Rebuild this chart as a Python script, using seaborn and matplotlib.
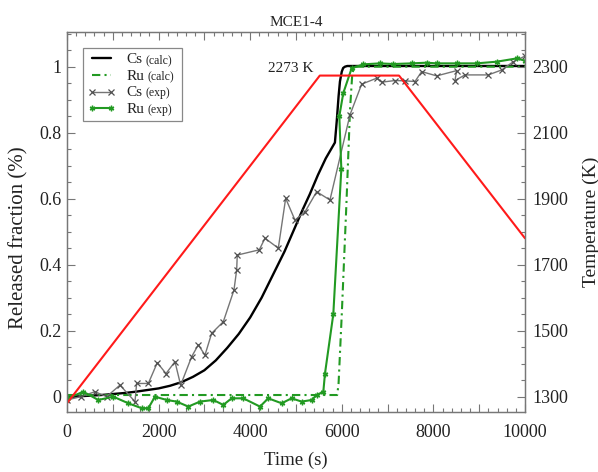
import matplotlib
matplotlib.use("Agg")
import matplotlib.pyplot as plt
import numpy as np
import pandas as pd
import seaborn as sns
from matplotlib.ticker import MultipleLocator, FixedLocator, FuncFormatter
from matplotlib.font_manager import FontProperties

# Furnace temperature programme (K)
temp_time = [0, 5520, 7250, 10000]
temp_K = [1280, 2273, 2273, 1780]

# Calculated release fractions
cs_calc_time = [0, 250, 500, 750, 1000, 1250, 1500, 1750, 2000, 2250, 2500, 2750,
                3000, 3250, 3500, 3750, 4000, 4250, 4500, 4750, 5000, 5150, 5300,
                5480, 5650, 5850, 5890, 5930, 5960, 6000, 6030, 6070, 6120, 10000]
cs_calc_frac = [0.0, 0.001, 0.003, 0.005, 0.008, 0.011, 0.015, 0.02, 0.025, 0.033,
                0.044, 0.06, 0.08, 0.11, 0.148, 0.19, 0.24, 0.30, 0.37, 0.44, 0.52,
                0.568, 0.613, 0.672, 0.722, 0.77, 0.835, 0.91, 0.955, 0.985, 0.996,
                1.0, 1.002, 1.002]

ru_calc_time = [0, 5900, 5930, 6000, 6100, 6180, 6230, 6280, 10000]
ru_calc_frac = [0.005, 0.005, 0.04, 0.25, 0.58, 0.87, 0.98, 1.0, 1.0]

# Measured release fractions
cs_exp_time = [0, 300, 611, 866, 1157, 1485, 1521, 1776, 1972, 2162, 2358, 2482,
               2722, 2867, 3013, 3159, 3413, 3646, 3705, 3718, 4199, 4323, 4614,
               4775, 4978, 5197, 5451, 5742, 6179, 6434, 6761, 6871, 7162, 7380,
               7598, 7744, 8072, 8508, 8472, 8690, 9199, 9491, 9745, 10000]
cs_exp_frac = [-0.01, 0.0, 0.015, 0.0, 0.035, -0.015, 0.04, 0.04, 0.103, 0.07,
               0.106, 0.035, 0.121, 0.157, 0.126, 0.192, 0.227, 0.323, 0.384,
               0.429, 0.445, 0.48, 0.45, 0.601, 0.535, 0.56, 0.621, 0.596, 0.854,
               0.947, 0.965, 0.953, 0.958, 0.957, 0.955, 0.985, 0.972, 0.988,
               0.958, 0.975, 0.975, 0.99, 1.015, 1.032]

ru_exp_time = [29, 356, 684, 1011, 1339, 1630, 1776, 1921, 2177, 2395, 2649, 2904,
               3195, 3413, 3595, 3849, 4214, 4395, 4686, 4906, 5124, 5343, 5451,
               5597, 5633, 5815, 5990, 5946, 6033, 6215, 6470, 6834, 7124, 7526,
               7853, 8072, 8508, 8945, 9381, 9818, 10000]
ru_exp_frac = [-0.004, 0.015, -0.01, 0.0, -0.02, -0.035, -0.035, 0.0, -0.01,
               -0.015, -0.03, -0.015, -0.01, -0.025, -0.005, -0.005, -0.03, -0.005,
               -0.02, -0.005, -0.015, -0.01, 0.005, 0.015, 0.07, 0.25, 0.69, 0.85,
               0.92, 0.995, 1.007, 1.01, 1.008, 1.01, 1.012, 1.01, 1.01, 1.01,
               1.015, 1.025, 1.018]

legend_names = ["Cs", "Ru", "Cs", "Ru"]
legend_tags = ["(calc)", "(calc)", "(exp)", "(exp)"]

sns.set_theme(style="ticks")
plt.rcParams["font.family"] = ["Liberation Serif", "DejaVu Serif"]

GREEN = "#229a22"
FRAME = "#777777"

fig = plt.figure(figsize=(5.98, 4.72), dpi=100)
ax = fig.add_axes([0.112, 0.1278, 0.7659, 0.8034])
ax2 = ax.twinx()

sns.lineplot(x=cs_calc_time, y=cs_calc_frac, ax=ax, sort=False, estimator=None,
             color="black", linewidth=1.7, label="Cs (calc)")
sns.lineplot(x=ru_calc_time, y=ru_calc_frac, ax=ax, sort=False, estimator=None,
             color=GREEN, linewidth=1.5, dashes=(4, 2, 1, 2), label="Ru (calc)")
sns.lineplot(x=cs_exp_time, y=cs_exp_frac, ax=ax, sort=False, estimator=None,
             color="#757575", linewidth=1.0, marker="x", markersize=4.2,
             markeredgecolor="#505050", markeredgewidth=0.9, label="Cs (exp)")
sns.lineplot(x=ru_exp_time, y=ru_exp_frac, ax=ax, sort=False, estimator=None,
             color=GREEN, linewidth=1.5, marker=(6, 2, 0), markersize=4,
             markeredgecolor=GREEN, markeredgewidth=1.0, label="Ru (exp)")

sns.lineplot(x=temp_time, y=temp_K, ax=ax2, sort=False, estimator=None,
             color="#ff1a1a", linewidth=1.5, legend=False)

ax.set_xlim(0, 10000)
ax.set_ylim(-0.0455, 1.1036)
ax2.set_ylim(1254.5, 2403.6)

ax.xaxis.set_major_locator(MultipleLocator(1000))
ax.xaxis.set_minor_locator(MultipleLocator(200))
ax.xaxis.set_major_formatter(FuncFormatter(
    lambda v, p: f"{int(round(v))}" if int(round(v)) % 2000 == 0 else ""))
ax.yaxis.set_major_locator(MultipleLocator(0.2))
ax.yaxis.set_minor_locator(MultipleLocator(0.05))
ax.yaxis.set_major_formatter(FuncFormatter(lambda v, p: f"{round(v, 2):g}"))
ax2.yaxis.set_major_locator(FixedLocator([1300, 1500, 1700, 1900, 2100, 2300]))
ax2.yaxis.set_minor_locator(MultipleLocator(50))

for a in (ax, ax2):
    for s in a.spines.values():
        s.set_color(FRAME)
        s.set_linewidth(0.9)

ax.tick_params(axis="both", which="both", direction="in", color=FRAME,
               top=True, right=False, labelsize=13, labelcolor="#222222")
ax.tick_params(which="major", length=6, width=0.8)
ax.tick_params(which="minor", length=3, width=0.8)
ax.tick_params(axis="x", which="major", pad=9)
ax.tick_params(axis="y", which="major", pad=4)
ax2.tick_params(axis="y", which="both", direction="in", color=FRAME,
                labelsize=13, labelcolor="#222222")
ax2.tick_params(which="major", length=6, width=0.8, pad=5.5)
ax2.tick_params(which="minor", length=3, width=0.8)

ax.set_xlabel("Time (s)", fontsize=13.5, color="#222222")
ax.xaxis.set_label_coords(0.5, -0.106)
ax.set_ylabel("Released fraction (%)", fontsize=15, color="#222222")
ax.yaxis.set_label_coords(-0.083, 0.458)
ax2.set_ylabel("Temperature (K)", fontsize=14, color="#222222")
ax2.yaxis.set_label_coords(1.125, 0.5)
ax.set_title("MCE1-4", fontsize=11, pad=4.5, color="#222222")

ax.text(5380, 0.993, "2273 K", ha="right", va="center", fontsize=11,
        color="#222222")

# Legend: full labels size the box, then drawn as name + smaller tag
leg_fs = 9.7
handles, labels = ax.get_legend_handles_labels()
leg = ax.legend(handles, labels, loc="upper left", bbox_to_anchor=(0.034, 0.959),
                borderaxespad=0, fancybox=False, framealpha=1, edgecolor="#888888",
                fontsize=leg_fs, handlelength=2.0, handletextpad=0.85,
                labelspacing=0.32, borderpad=0.4, numpoints=2)
leg.get_frame().set_linewidth(0.9)
for t in leg.get_texts():
    t.set_alpha(0)

fig.canvas.draw()
renderer = fig.canvas.get_renderer()
W, H = fig.bbox.width, fig.bbox.height
fp_leg = FontProperties(family=["Liberation Serif"], size=leg_fs)
fp_name = FontProperties(family=["Liberation Serif"], size=11)
fp_tag = FontProperties(family=["Liberation Serif"], size=8.5)
_, _, lp_d = renderer.get_text_width_height_descent("lp", fp_leg, ismath=False)
for t, name, tag in zip(leg.get_texts(), legend_names, legend_tags):
    bb = t.get_window_extent(renderer)
    base = bb.y0 + lp_d
    w_name, _, _ = renderer.get_text_width_height_descent(name, fp_name, ismath=False)
    fig.text(bb.x0 / W, base / H, name, fontproperties=fp_name,
             va="baseline", ha="left", color="#222222")
    fig.text((bb.x0 + w_name + 3.5) / W, base / H, tag, fontproperties=fp_tag,
             va="baseline", ha="left", color="#222222")

fig.savefig("out.png", dpi=100)
